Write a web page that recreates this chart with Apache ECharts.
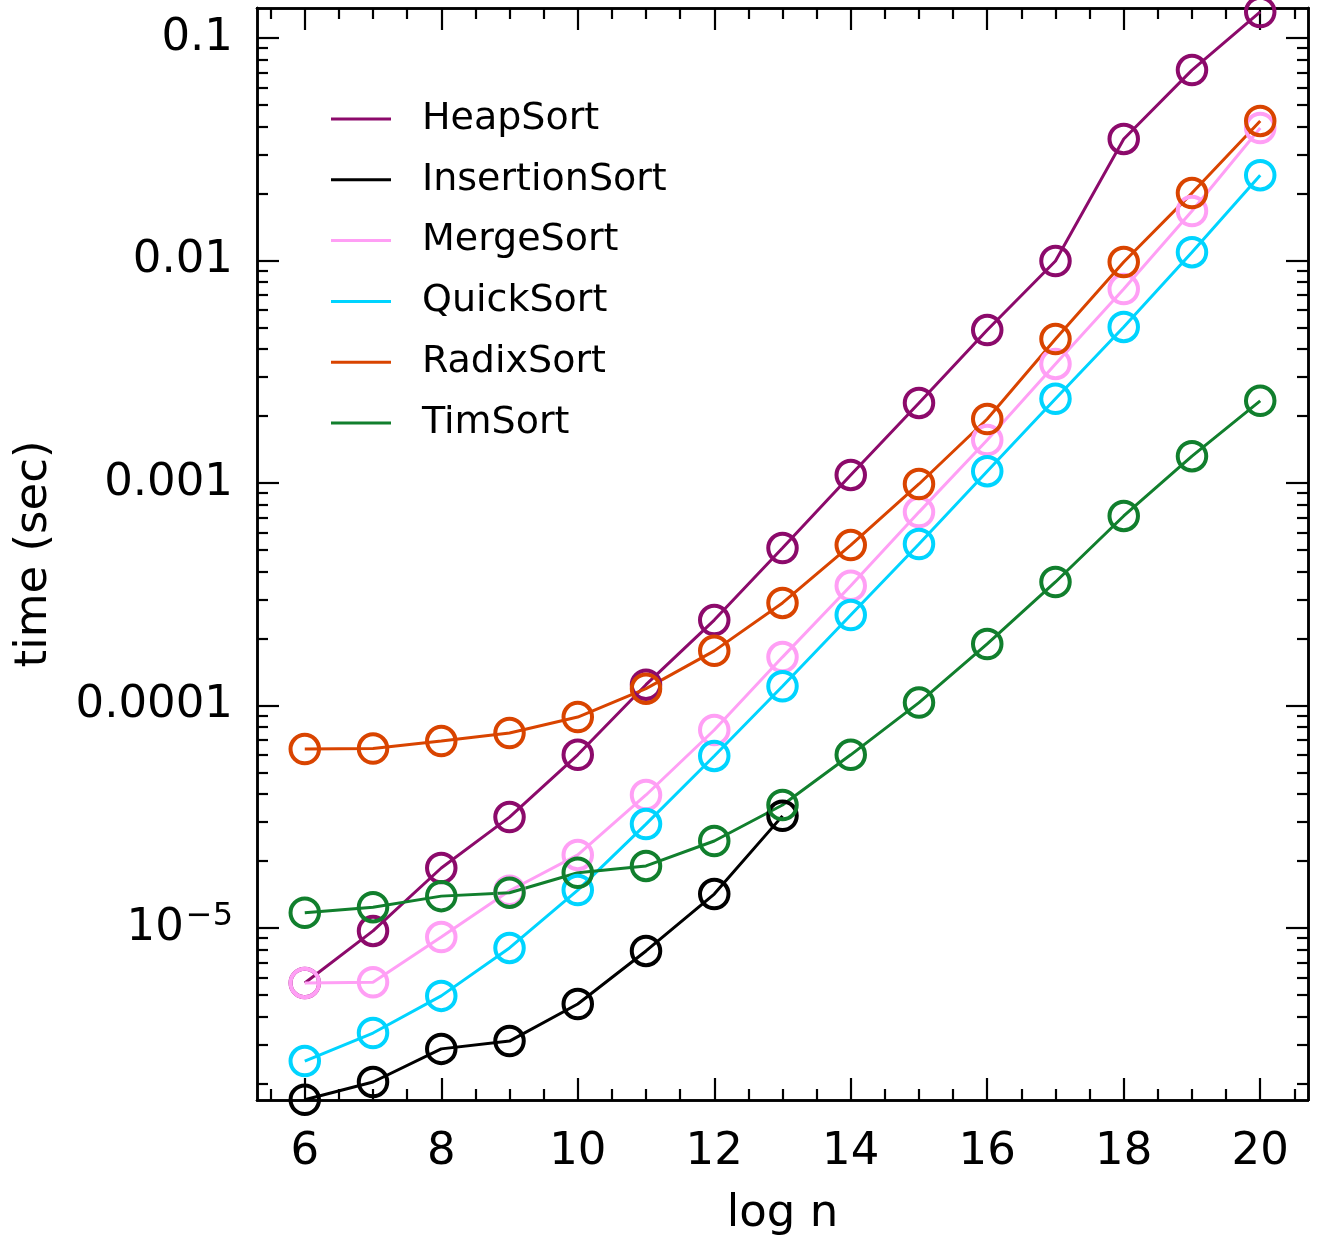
<!DOCTYPE html>
<html>
<head>
<meta charset="utf-8">
<script src="https://cdn.jsdelivr.net/npm/echarts@6/dist/echarts.min.js"></script>
<style>
  html, body { margin: 0; padding: 0; background: #fff; }
  #chart { width: 1321px; height: 1237px; }
</style>
</head>
<body>
<div id="chart"></div>
<script>
// log n
const logN = [6, 7, 8, 9, 10, 11, 12, 13, 14, 15, 16, 17, 18, 19, 20]

// time (sec)
const heapSort = [5.66e-6, 9.7e-6, 1.86e-5, 3.15e-5, 6.0e-5, 1.24e-4, 2.42e-4, 5.1e-4, 1.087e-3, 2.29e-3, 4.87e-3, 9.95e-3, 0.0352, 0.0718, 0.131]
const insertionSort = [1.69e-6, 2.03e-6, 2.86e-6, 3.1e-6, 4.55e-6, 7.88e-6, 1.42e-5, 3.19e-5]
const mergeSort = [5.66e-6, 5.7e-6, 9.1e-6, 1.47e-5, 2.13e-5, 3.96e-5, 7.76e-5, 1.65e-4, 3.45e-4, 7.4e-4, 1.56e-3, 3.43e-3, 7.44e-3, 0.0167, 0.0394]
const quickSort = [2.52e-6, 3.37e-6, 4.95e-6, 8.13e-6, 1.48e-5, 2.93e-5, 5.93e-5, 1.22e-4, 2.55e-4, 5.32e-4, 1.13e-3, 2.39e-3, 5.03e-3, 0.0109, 0.0242]
const radixSort = [6.37e-5, 6.4e-5, 6.92e-5, 7.52e-5, 8.87e-5, 1.19e-4, 1.76e-4, 2.89e-4, 5.26e-4, 9.9e-4, 1.94e-3, 4.44e-3, 9.85e-3, 0.0201, 0.0424]
const timSort = [1.17e-5, 1.24e-5, 1.39e-5, 1.44e-5, 1.77e-5, 1.9e-5, 2.46e-5, 3.57e-5, 6.0e-5, 1.03e-4, 1.89e-4, 3.59e-4, 7.11e-4, 1.32e-3, 2.34e-3]

const seriesNames = ['HeapSort', 'InsertionSort', 'MergeSort', 'QuickSort', 'RadixSort', 'TimSort']
const seriesValues = [heapSort, insertionSort, mergeSort, quickSort, radixSort, timSort]
const colors = ['#8c0a6b', '#000000', '#ff9ff5', '#00d4ff', '#d94400', '#117f2d']

// ticks
const xMajor = [6, 8, 10, 12, 14, 16, 18, 20]
const xMinor = [5.5, 6.5, 7, 7.5, 8.5, 9, 9.5, 10.5, 11, 11.5, 12.5, 13, 13.5, 14.5, 15, 15.5, 16.5, 17, 17.5, 18.5, 19, 19.5, 20.5]
const yMajor = [1e-5, 1e-4, 1e-3, 1e-2, 1e-1]
const yMajorLabels = ['10{sup|−5}', '0.0001', '0.001', '0.01', '0.1']
const yMinor = []
for (let e = -6; e <= -2; e++) {
  for (let k = 2; k <= 9; k++) {
    const v = k * Math.pow(10, e)
    if (v > 1.7e-6 && v < 0.136) yMinor.push(v)
  }
}

const xMin = 5.3, xMax = 20.7
const yMin = 1.685e-6, yMax = 0.1365
const font = 'DejaVu Sans'
const axisLine = { show: true, lineStyle: { color: '#000', width: 2.5 } }

function xAxisDef (pos, ticks, len, labels) {
  return {
    type: 'value', position: pos, min: xMin, max: xMax,
    axisLine: axisLine,
    splitLine: { show: false },
    axisTick: { show: true, inside: true, length: len, customValues: ticks, lineStyle: { color: '#000', width: 2.2 } },
    axisLabel: labels
      ? { show: true, customValues: ticks, margin: 30, fontSize: 45, fontFamily: font, color: '#000' }
      : { show: false }
  }
}
function yAxisDef (pos, ticks, len, labels) {
  return {
    type: 'log', logBase: 10, position: pos, min: yMin, max: yMax,
    axisLine: axisLine,
    splitLine: { show: false },
    minorTick: { show: false },
    axisTick: { show: true, inside: true, length: len, customValues: ticks, lineStyle: { color: '#000', width: 2.2 } },
    axisLabel: labels
      ? {
          show: true, customValues: ticks, margin: 24, fontSize: 45, fontFamily: font, color: '#000',
          formatter: function (v) {
            const i = Math.round(Math.log10(v)) + 5
            return yMajorLabels[i]
          },
          rich: { sup: { fontSize: 32, fontFamily: font, color: '#000', padding: [0, 0, 22, 2] } }
        }
      : { show: false }
  }
}

const xAxes = [
  xAxisDef('bottom', xMajor, 22, true),
  xAxisDef('bottom', xMinor, 11, false),
  xAxisDef('top', xMajor, 22, false),
  xAxisDef('top', xMinor, 11, false)
]
xAxes[0].name = 'log n'
xAxes[0].nameLocation = 'middle'
xAxes[0].nameGap = 92
xAxes[0].nameTextStyle = { fontSize: 45, fontFamily: font, color: '#000' }

const yAxes = [
  yAxisDef('left', yMajor, 22, true),
  yAxisDef('left', yMinor, 11, false),
  yAxisDef('right', yMajor, 22, false),
  yAxisDef('right', yMinor, 11, false)
]
yAxes[0].name = 'time (sec)'
yAxes[0].nameLocation = 'middle'
yAxes[0].nameGap = 200
yAxes[0].nameTextStyle = { fontSize: 45, fontFamily: font, color: '#000' }

const series = seriesNames.map(function (name, i) {
  return {
    name: name,
    type: 'line',
    xAxisIndex: 0,
    yAxisIndex: 0,
    data: seriesValues[i].map(function (v, j) { return [logN[j], v] }),
    symbol: 'circle',
    symbolSize: 28.5,
    showAllSymbol: true,
    clip: true,
    lineStyle: { color: colors[i], width: 3 },
    itemStyle: { color: 'transparent', borderColor: colors[i], borderWidth: 4 },
    emphasis: { disabled: true },
    animation: false
  }
})

const chart = echarts.init(document.getElementById('chart'))
chart.setOption({
  backgroundColor: '#fff',
  animation: false,
  grid: { left: 257, right: 13, top: 8, bottom: 137, containLabel: false, outerBoundsMode: 'none' },
  legend: {
    orient: 'vertical',
    left: 326,
    top: 94,
    icon: 'rect',
    itemWidth: 60,
    itemHeight: 3,
    itemGap: 20.8,
    selectedMode: false,
    textStyle: { fontSize: 38, fontFamily: font, color: '#000', lineHeight: 40, padding: [0, 0, 0, 26] },
    data: seriesNames.map(function (name, i) {
      return { name: name, itemStyle: { color: colors[i], borderWidth: 0 } }
    })
  },
  xAxis: xAxes,
  yAxis: yAxes,
  series: series
})
</script>
</body>
</html>
